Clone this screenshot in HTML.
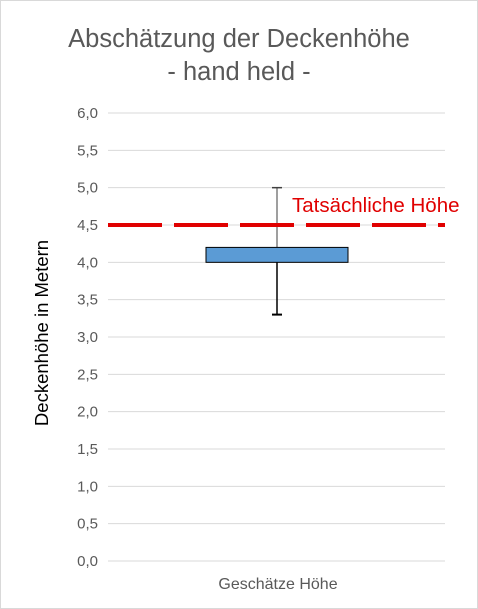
<!DOCTYPE html>
<html><head><meta charset="utf-8"><style>
body{margin:0;background:#fff}
svg{display:block;font-family:"Liberation Sans",sans-serif}
</style></head><body>
<svg width="478" height="609" viewBox="0 0 478 609">
<rect x="0.5" y="0.5" width="477" height="608" fill="#fff" stroke="#d9d9d9"/>
<text x="239" y="47" text-anchor="middle" font-size="25.5" fill="#595959">Abschätzung der Deckenhöhe</text>
<text x="239" y="80" text-anchor="middle" font-size="25.5" fill="#595959">- hand held -</text>
<g id="grid"></g><g id="marks"></g>
<text transform="translate(48,333) rotate(-90)" text-anchor="middle" font-size="18.5" fill="#000">Deckenhöhe in Metern</text>
<text x="278" y="589" text-anchor="middle" font-size="16" fill="#595959">Geschätze Höhe</text>
</svg>
<script>
const ticks=[0,0.5,1,1.5,2,2.5,3,3.5,4,4.5,5,5.5,6];
const tickLabels=["0,0","0,5","1,0","1,5","2,0","2,5","3,0","3,5","4,0","4,5","5,0","5,5","6,0"];
const boxLow=[4.0],boxHigh=[4.2],whiskerMin=[3.3],whiskerMax=[5.0];
const actualHeight=[4.5];
const NS="http://www.w3.org/2000/svg";
const y=v=>561-v*74.667;
const x0=108,x1=445,cx=277;
function mk(t,a,p){const e=document.createElementNS(NS,t);for(const k in a)e.setAttribute(k,a[k]);p.appendChild(e);return e;}
const g=document.getElementById('grid'),m=document.getElementById('marks');
ticks.forEach((t,i)=>{
 const l=mk('line',{x1:x0,x2:x1,y1:y(t),y2:y(t),stroke:'#d9d9d9','stroke-width':1},g);
 
 
 const tx=mk('text',{x:98,y:y(t)+5,'text-anchor':'end','font-size':15,fill:'#595959'},g);
 tx.textContent=tickLabels[i];
 
 
});
const wu=mk('line',{x1:cx,x2:cx,y1:y(whiskerMax[0]),y2:y(boxHigh[0]),stroke:'#7f7f7f','stroke-width':1.5},m);


const wuc=mk('line',{x1:cx-5,x2:cx+5,y1:y(whiskerMax[0]),y2:y(whiskerMax[0]),stroke:'#404040','stroke-width':1.5},m);


const wl=mk('line',{x1:cx,x2:cx,y1:y(boxLow[0]),y2:y(whiskerMin[0]),stroke:'#000','stroke-width':1.5},m);


const wlc=mk('line',{x1:cx-5,x2:cx+5,y1:y(whiskerMin[0]),y2:y(whiskerMin[0]),stroke:'#000','stroke-width':2},m);


const ref=mk('line',{x1:x0,x2:x1,y1:y(actualHeight[0]),y2:y(actualHeight[0]),stroke:'#e00000','stroke-width':4,'stroke-dasharray':'54,12'},m);


const box=mk('rect',{x:206,width:142,y:y(boxHigh[0]),height:y(boxLow[0])-y(boxHigh[0]),fill:'#5b9bd5',stroke:'#000','stroke-width':1},m);


const lbl=mk('text',{x:292,y:y(actualHeight[0])-13,'font-size':20.5,fill:'#e00000'},m);
lbl.textContent='Tatsächliche Höhe';


</script>
</body></html>
